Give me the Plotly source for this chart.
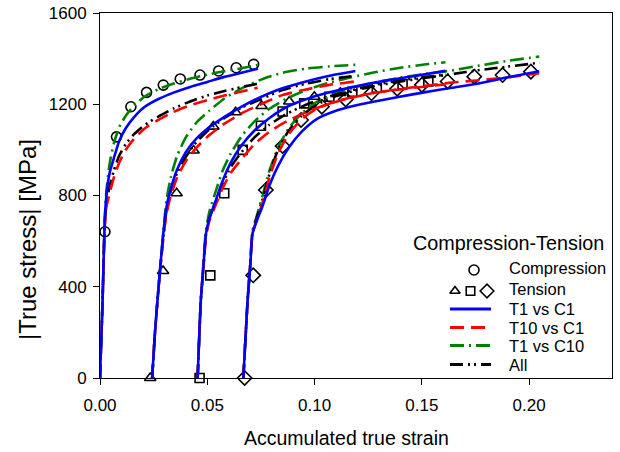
import plotly.graph_objects as go

# ---------------- data ----------------
# Compression loading (all four models share the strain grid)
comp_strain = [0, 0.0012, 0.0022, 0.003, 0.0045, 0.0065, 0.009, 0.012, 0.016,
               0.021, 0.027, 0.034, 0.042, 0.05, 0.058, 0.066, 0.0735]
t1c1_comp  = [0, 340, 690, 800, 900, 965, 1040, 1095, 1145, 1190, 1222, 1250, 1276, 1298, 1320, 1338, 1356]
t10c1_comp = [0, 340, 660, 750, 810, 880, 945, 1000, 1050, 1095, 1130, 1165, 1195, 1218, 1238, 1256, 1272]
t1c10_comp = [0, 340, 690, 820, 940, 1030, 1100, 1150, 1195, 1235, 1265, 1290, 1312, 1330, 1345, 1358, 1372]
all_comp   = [0, 340, 670, 770, 840, 910, 975, 1025, 1070, 1110, 1145, 1180, 1212, 1238, 1258, 1275, 1290]

# Tension reload 1
ten1_strain = [0.0243, 0.0256, 0.0268, 0.0281, 0.0295, 0.031, 0.033, 0.036, 0.040,
               0.045, 0.051, 0.058, 0.066, 0.075, 0.085, 0.096, 0.107, 0.119]
t1c1_ten1  = [0, 196, 342, 488, 634, 750, 830, 915, 990, 1050, 1100, 1145, 1190, 1232, 1270, 1300, 1325, 1346]
t10c1_ten1 = [0, 196, 342, 480, 610, 720, 800, 880, 950, 1010, 1065, 1115, 1160, 1200, 1240, 1265, 1285, 1300]
t1c10_ten1 = [0, 196, 342, 488, 640, 780, 880, 975, 1055, 1120, 1172, 1225, 1270, 1308, 1338, 1356, 1366, 1373]
all_ten1   = [0, 196, 342, 485, 620, 735, 820, 900, 970, 1035, 1090, 1140, 1185, 1222, 1262, 1290, 1310, 1325]

# Tension reload 2
ten2_strain = [0.0455, 0.047, 0.0482, 0.0494, 0.051, 0.054, 0.057, 0.061, 0.066, 0.072,
               0.079, 0.087, 0.096, 0.106, 0.117, 0.128, 0.14, 0.152, 0.161]
t1c1_ten2  = [0, 342, 490, 634, 700, 780, 860, 945, 1020, 1085, 1140, 1188, 1222, 1250, 1274, 1295, 1314, 1332, 1347]
t10c1_ten2 = [0, 342, 485, 620, 690, 760, 830, 900, 960, 1025, 1080, 1125, 1165, 1200, 1228, 1250, 1265, 1278, 1287]
t1c10_ten2 = [0, 342, 500, 650, 730, 820, 905, 985, 1060, 1125, 1180, 1225, 1262, 1292, 1318, 1340, 1360, 1375, 1384]
all_ten2   = [0, 342, 488, 628, 700, 775, 850, 925, 990, 1055, 1110, 1158, 1198, 1232, 1260, 1285, 1305, 1320, 1330]

# Tension reload 3
ten3_strain = [0.0668, 0.0688, 0.07, 0.0711, 0.0735, 0.0758, 0.079, 0.083, 0.088, 0.094,
               0.101, 0.109, 0.118, 0.128, 0.139, 0.151, 0.164, 0.177, 0.19, 0.2047]
t1c1_ten3  = [0, 342, 490, 634, 700, 755, 845, 930, 1010, 1080, 1135, 1168, 1192, 1212, 1232, 1252, 1272, 1292, 1318, 1345]
t10c1_ten3 = [0, 342, 490, 634, 705, 770, 880, 985, 1070, 1135, 1180, 1210, 1232, 1250, 1266, 1280, 1295, 1305, 1318, 1336]
t1c10_ten3 = [0, 342, 495, 645, 725, 800, 910, 1010, 1095, 1160, 1210, 1245, 1272, 1295, 1315, 1332, 1348, 1370, 1390, 1409]
all_ten3   = [0, 342, 492, 640, 715, 785, 895, 1000, 1085, 1150, 1198, 1232, 1258, 1280, 1298, 1315, 1332, 1350, 1365, 1382]

# Experimental points
comp_exp_strain = [0.0023, 0.0077, 0.0144, 0.0217, 0.0295, 0.0374, 0.0466, 0.0553, 0.0635, 0.0716]
comp_exp_stress = [641, 1057, 1189, 1252, 1284, 1311, 1328, 1346, 1360, 1375]
ten1_exp_strain = [0.0234, 0.0294, 0.0357, 0.0436, 0.0528, 0.0632, 0.0753, 0.0882, 0.0999, 0.112]
ten1_exp_stress = [0, 469, 810, 997, 1102, 1165, 1192, 1212, 1233, 1250]
ten2_exp_strain = [0.0464, 0.0514, 0.0579, 0.0665, 0.075, 0.0851, 0.0952, 0.1069, 0.1176, 0.129, 0.141, 0.153]
ten2_exp_stress = [0, 450, 810, 1000, 1106, 1168, 1204, 1233, 1255, 1272, 1288, 1300]
ten3_exp_strain = [0.0674, 0.0714, 0.0773, 0.0851, 0.0937, 0.1034, 0.1145, 0.1265, 0.1385, 0.150, 0.162, 0.1744, 0.1876, 0.2008]
ten3_exp_stress = [0, 450, 824, 1017, 1131, 1189, 1221, 1248, 1268, 1285, 1300, 1321, 1328, 1343]

x_ticks = [0.00, 0.05, 0.10, 0.15, 0.20]
x_ticklabels = ["0.00", "0.05", "0.10", "0.15", "0.20"]
y_ticks = [0, 400, 800, 1200, 1600]
y_ticklabels = ["0", "400", "800", "1200", "1600"]

model_names = ["T1 vs C1", "T10 vs C1", "T1 vs C10", "All"]
legend_title = "Compression-Tension"
x_title = "Accumulated true strain"
y_title = "|True stress| [MPa]"

# ---------------- styles ----------------
FONT = "Liberation Sans, Arial, sans-serif"
model_styles = {
    "T1 vs C1":  dict(color="#0000FF", dash="solid"),
    "T10 vs C1": dict(color="#FF0000", dash="14px,7px"),
    "T1 vs C10": dict(color="#008000", dash="14px,5px,2px,5px"),
    "All":       dict(color="#000000", dash="13px,5px,2px,4px,2px,5px"),
}
model_data = {
    "T1 vs C1":  [t1c1_comp, t1c1_ten1, t1c1_ten2, t1c1_ten3],
    "T10 vs C1": [t10c1_comp, t10c1_ten1, t10c1_ten2, t10c1_ten3],
    "T1 vs C10": [t1c10_comp, t1c10_ten1, t1c10_ten2, t1c10_ten3],
    "All":       [all_comp, all_ten1, all_ten2, all_ten3],
}
seg_strains = [comp_strain, ten1_strain, ten2_strain, ten3_strain]
LW = 2.6

fig = go.Figure()

# experimental markers
exp_sets = [
    (comp_exp_strain, comp_exp_stress, "circle-open", 10),
    (ten1_exp_strain, ten1_exp_stress, "triangle-up-open", 10),
    (ten2_exp_strain, ten2_exp_stress, "square-open", 9),
    (ten3_exp_strain, ten3_exp_stress, "diamond-open", 11),
]
for xs, ys, sym, sz in exp_sets:
    fig.add_trace(go.Scatter(x=xs, y=ys, mode="markers", showlegend=False,
                             marker=dict(symbol=sym, size=sz, color="black",
                                         line=dict(width=1.6, color="black")),
                             cliponaxis=False))

# model curves
for name in ["T1 vs C10", "All", "T10 vs C1", "T1 vs C1"]:
    st = model_styles[name]
    for xs, ys in zip(seg_strains, model_data[name]):
        fig.add_trace(go.Scatter(x=xs, y=ys, mode="lines", showlegend=False,
                                 line=dict(color=st["color"], dash=st["dash"],
                                           width=LW, shape="spline", smoothing=0.6)))

# ---------------- hand-drawn legend on an overlay axis (0..1 box) ----------------
L, R, T, B = 100, 612, 13, 378
W, H = 620, 452
def fx(px):
    return (px - L) / (R - L)
def fy(py):
    return (B - py) / (B - T)

leg_text_x = fx(507)
rows_y = [268, 289, 309, 327.5, 345.5, 364.5]
fig.add_trace(go.Scatter(x=[fx(474)], y=[fy(rows_y[0] + 2)], mode="markers",
                         xaxis="x2", yaxis="y2", showlegend=False,
                         marker=dict(symbol="circle-open", size=10, color="black",
                                     line=dict(width=1.6))))
for px, sym, sz in [(455, "triangle-up-open", 9), (470.5, "square-open", 8.5), (487, "diamond-open", 10.5)]:
    fig.add_trace(go.Scatter(x=[fx(px)], y=[fy(rows_y[1] + 2)], mode="markers",
                             xaxis="x2", yaxis="y2", showlegend=False,
                             marker=dict(symbol=sym, size=sz, color="black",
                                         line=dict(width=1.6))))
for i, name in enumerate(model_names):
    st = model_styles[name]
    yy = fy(rows_y[2 + i])
    fig.add_trace(go.Scatter(x=[fx(450), fx(491)], y=[yy, yy], mode="lines",
                             xaxis="x2", yaxis="y2", showlegend=False,
                             line=dict(color=st["color"], dash=st["dash"], width=3)))

annotations = [
    dict(text=legend_title, x=fx(411), y=fy(243), xref="x2", yref="y2",
         xanchor="left", yanchor="middle", showarrow=False,
         font=dict(family=FONT, size=19.8, color="black")),
]
for label, py in zip(["Compression", "Tension"] + model_names, rows_y):
    annotations.append(dict(text=label, x=leg_text_x, y=fy(py), xref="x2", yref="y2",
                            xanchor="left", yanchor="middle", showarrow=False,
                            font=dict(family=FONT, size=16.5, color="black")))
# axis titles (placed in paper pixels)
annotations.append(dict(text=x_title, x=(346 - L) / (R - L), y=(B - 438) / (B - T),
                        xref="paper", yref="paper", xanchor="center", yanchor="middle",
                        showarrow=False, font=dict(family=FONT, size=19.5, color="black")))
annotations.append(dict(text=y_title, x=(27 - L) / (R - L), y=(B - 240) / (B - T),
                        xref="paper", yref="paper", xanchor="center", yanchor="middle",
                        textangle=-90, showarrow=False,
                        font=dict(family=FONT, size=24, color="black")))
fig.update_layout(annotations=annotations)

axis_common = dict(ticks="outside", ticklen=6, tickwidth=1, tickcolor="black",
                   showline=True, linecolor="black", linewidth=1, mirror=True,
                   showgrid=False, zeroline=False, automargin=False,
                   tickfont=dict(family=FONT, size=17, color="black"))
fig.update_layout(
    width=W, height=H,
    margin=dict(l=L, r=W - R, t=T, b=H - B, pad=0, autoexpand=False),
    paper_bgcolor="white", plot_bgcolor="white",
    font=dict(family=FONT, size=16, color="black"),
    showlegend=False,
    xaxis=dict(range=[0, 0.2386], tickvals=x_ticks, ticktext=x_ticklabels,
               ticklabelstandoff=6, **axis_common),
    yaxis=dict(range=[0, 1600], tickvals=y_ticks, ticktext=y_ticklabels,
               ticklabelstandoff=3, **axis_common),
    xaxis2=dict(range=[0, 1], overlaying="x", visible=False, fixedrange=True),
    yaxis2=dict(range=[0, 1], overlaying="y", visible=False, fixedrange=True),
)

# the page's default 8px body margin would shift the figure; remove it
fig.write_html("out.html", config={"displayModeBar": False},
               post_script="document.body.style.margin='0px';document.body.style.overflow='hidden';")
